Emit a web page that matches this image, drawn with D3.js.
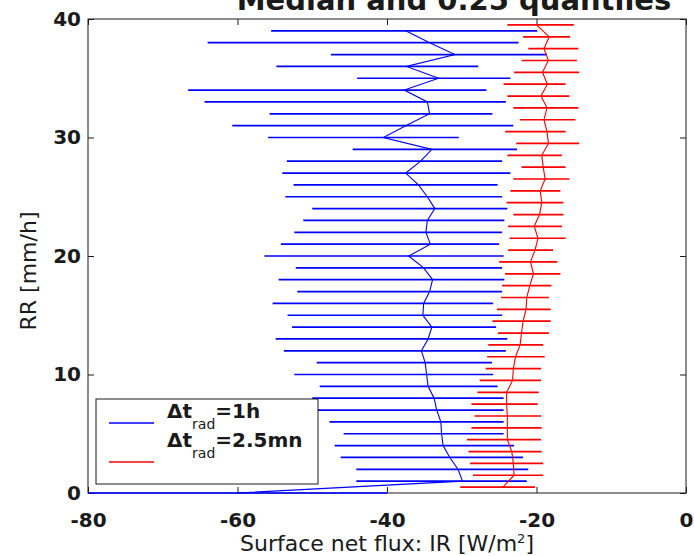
<!DOCTYPE html>
<html>
<head>
<meta charset="utf-8">
<script src="https://cdn.jsdelivr.net/npm/d3@7"></script>
<style>
  html, body { margin: 0; padding: 0; background: #fff; }
  svg { display: block; }
</style>
</head>
<body>
<svg id="chart" width="694" height="556"></svg>
<script>
// ---- data ----
const titleText = "Median and 0.25 quantiles";
const xLabelText = "Surface net flux: IR [W/m";
const yLabelText = "RR [mm/h]";
const xTicks = [-80, -60, -40, -20, 0];
const yTicks = [0, 10, 20, 30, 40];

// Δt_rad = 1h (blue), rain-rate levels 0..39 mm/h
const blueRR     = [0,1,2,3,4,5,6,7,8,9,10,11,12,13,14,15,16,17,18,19,20,21,22,23,24,25,26,27,28,29,30,31,32,33,34,35,36,37,38,39];
const blueLow    = [-80,-44.1,-44.1,-46.2,-47.0,-45.8,-47.7,-51.0,-50.0,-49.0,-52.4,-49.4,-53.8,-54.9,-52.7,-53.3,-55.3,-52.0,-54.5,-52.2,-56.4,-54.2,-52.4,-51.2,-50.0,-53.6,-52.5,-54.0,-53.4,-44.6,-55.9,-60.7,-55.7,-64.4,-66.6,-44.0,-54.8,-47.5,-64.0,-55.5];
const blueMedian = [-60,-29.9,-30.5,-31.6,-32.5,-32.7,-32.8,-33.35,-33.7,-34.5,-34.7,-34.9,-35.4,-34.5,-34.0,-35.2,-35.1,-34.3,-33.9,-35.1,-37.1,-34.2,-34.8,-34.6,-33.6,-34.6,-35.8,-37.5,-35.5,-34.0,-40.5,-37.5,-34.3,-34.6,-37.7,-33.1,-37.4,-30.9,-34.3,-37.5];
const blueHigh   = [-40,-21.3,-21.1,-21.8,-23.0,-24.4,-24.4,-24.4,-24.4,-25.2,-25.8,-25.95,-24.1,-23.9,-25.4,-24.6,-25.8,-24.6,-24.3,-24.6,-24.4,-25.0,-24.6,-24.3,-23.9,-24.6,-25.2,-23.5,-24.6,-22.6,-30.4,-23.1,-25.9,-24.1,-26.7,-23.5,-27.8,-18.6,-22.4,-19.9];

// Δt_rad = 2.5mn (red), rain-rate levels 0.5..39.5 mm/h
const redRR     = [0.5,1.5,2.5,3.5,4.5,5.5,6.5,7.5,8.5,9.5,10.5,11.5,12.5,13.5,14.5,15.5,16.5,17.5,18.5,19.5,20.5,21.5,22.5,23.5,24.5,25.5,26.5,27.5,28.5,29.5,30.5,31.5,32.5,33.5,34.5,35.5,36.5,37.5,38.5,39.5];
const redLow    = [-30.2,-28.5,-28.9,-29.1,-29.3,-28.7,-28.3,-28.7,-27.9,-27.6,-26.8,-26.6,-26.45,-25.15,-25.9,-25.3,-24.75,-24.6,-24.2,-25.0,-23.8,-23.6,-23.8,-23.1,-24.0,-23.5,-23.1,-22.0,-23.9,-22.7,-24.2,-22.2,-23.1,-23.9,-24.4,-23.0,-22.0,-21.1,-21.8,-23.9];
const redMedian = [-24.5,-23.0,-23.1,-23.3,-23.9,-23.9,-23.9,-24.0,-24.0,-23.2,-23.1,-22.8,-22.2,-22.0,-21.8,-21.4,-21.3,-20.9,-20.4,-20.8,-20.2,-19.8,-20.3,-19.6,-19.3,-19.5,-18.85,-19.1,-19.3,-18.4,-18.6,-19.0,-18.6,-19.4,-18.55,-19.2,-18.4,-19.0,-18.3,-20.0];
const redHigh   = [-20.2,-19.1,-19.1,-19.3,-19.4,-19.3,-19.4,-19.85,-19.7,-19.4,-19.4,-18.9,-19.1,-18.35,-18.1,-18.1,-18.35,-18.0,-16.8,-17.2,-17.8,-16.1,-16.6,-16.4,-16.4,-16.8,-15.6,-16.1,-16.6,-14.3,-16.1,-14.8,-14.4,-15.6,-16.1,-14.3,-14.6,-14.4,-15.5,-15.0];

const legendLabels = ["=1h", "=2.5mn"];
const seriesColors = ["#0000ff", "#ff0000"];

// ---- layout ----
const svg = d3.select("#chart");
const pL = 88, pR = 686, pT = 19, pB = 493;
const x = d3.scaleLinear().domain([-80, 0]).range([pL, pR]);
const y = d3.scaleLinear().domain([0, 40]).range([pB, pT]);

const tickFont = "'DejaVu Sans', sans-serif";
const ink = "#1a1a1a";

// title (cut off at the top, as in the reference)
svg.append("text")
  .attr("x", 454).attr("y", 10)
  .attr("text-anchor", "middle")
  .attr("font-family", tickFont)
  .attr("font-weight", "bold")
  .attr("font-size", 29)
  .attr("fill", ink)
  .text(titleText);

// frame
svg.append("rect")
  .attr("x", pL).attr("y", pT)
  .attr("width", pR - pL).attr("height", pB - pT)
  .attr("fill", "none").attr("stroke", ink).attr("stroke-width", 1);

function styleAxis(g, showLabels) {
  g.select(".domain").remove();
  g.selectAll(".tick line").attr("stroke", ink).attr("stroke-width", 1);
  g.selectAll(".tick text")
    .attr("font-family", tickFont)
    .attr("font-weight", "bold")
    .attr("font-size", 20)
    .attr("fill", ink);
  if (!showLabels) g.selectAll(".tick text").remove();
}

svg.append("g").attr("transform", `translate(0,${pB})`)
  .call(d3.axisBottom(x).tickValues(xTicks).tickSize(-6).tickPadding(20).tickFormat(d => String(d)))
  .call(g => styleAxis(g, true));
svg.append("g").attr("transform", `translate(0,${pT})`)
  .call(d3.axisTop(x).tickValues(xTicks).tickSize(-6))
  .call(g => styleAxis(g, false));
svg.append("g").attr("transform", `translate(${pL},0)`)
  .call(d3.axisLeft(y).tickValues(yTicks).tickSize(-6).tickPadding(7).tickFormat(d => String(d)))
  .call(g => styleAxis(g, true));
svg.append("g").attr("transform", `translate(${pR},0)`)
  .call(d3.axisRight(y).tickValues(yTicks).tickSize(-6))
  .call(g => styleAxis(g, false));

// axis labels
const xl = svg.append("text")
  .attr("x", (pL + pR) / 2).attr("y", 551)
  .attr("text-anchor", "middle")
  .attr("font-family", tickFont)
  .attr("font-size", 22)
  .attr("fill", ink);
xl.append("tspan").text(xLabelText);
xl.append("tspan").attr("font-size", 13).attr("dy", -8).text("2");
xl.append("tspan").attr("dy", 8).text("]");

svg.append("text")
  .attr("transform", `translate(36,${(pT + pB) / 2 + 15}) rotate(-90)`)
  .attr("text-anchor", "middle")
  .attr("font-family", tickFont)
  .attr("font-size", 22)
  .attr("fill", ink)
  .text(yLabelText);

// series
function drawSeries(rr, lo, med, hi, color) {
  const g = svg.append("g");
  g.selectAll("line.bar").data(rr).join("line")
    .attr("class", "bar")
    .attr("x1", (d, i) => x(lo[i])).attr("x2", (d, i) => x(hi[i]))
    .attr("y1", d => y(d)).attr("y2", d => y(d))
    .attr("stroke", color).attr("stroke-width", 1.7);
  const line = d3.line().x((d, i) => x(med[i])).y(d => y(d));
  g.append("path").datum(rr)
    .attr("d", line)
    .attr("fill", "none").attr("stroke", color).attr("stroke-width", 1.1);
}
drawSeries(blueRR, blueLow, blueMedian, blueHigh, seriesColors[0]);
drawSeries(redRR, redLow, redMedian, redHigh, seriesColors[1]);

// legend
const lg = svg.append("g");
lg.append("rect")
  .attr("x", 96).attr("y", 399).attr("width", 222).attr("height", 85)
  .attr("fill", "#fff").attr("stroke", ink).attr("stroke-width", 1);
const legY = [423, 462];
const textBase = [418, 447];
legendLabels.forEach((lab, i) => {
  lg.append("line")
    .attr("x1", 109).attr("x2", 154)
    .attr("y1", legY[i]).attr("y2", legY[i])
    .attr("stroke", seriesColors[i]).attr("stroke-width", 1.7);
  const t = lg.append("text")
    .attr("x", 167).attr("y", textBase[i])
    .attr("font-family", tickFont)
    .attr("font-weight", "bold")
    .attr("font-size", 20)
    .attr("fill", ink);
  t.append("tspan").text("\u0394t");
  t.append("tspan").attr("font-size", 14).attr("font-weight", "normal").attr("dy", 11).text("rad");
  t.append("tspan").attr("dy", -11).text(lab);
});
</script>
</body>
</html>
